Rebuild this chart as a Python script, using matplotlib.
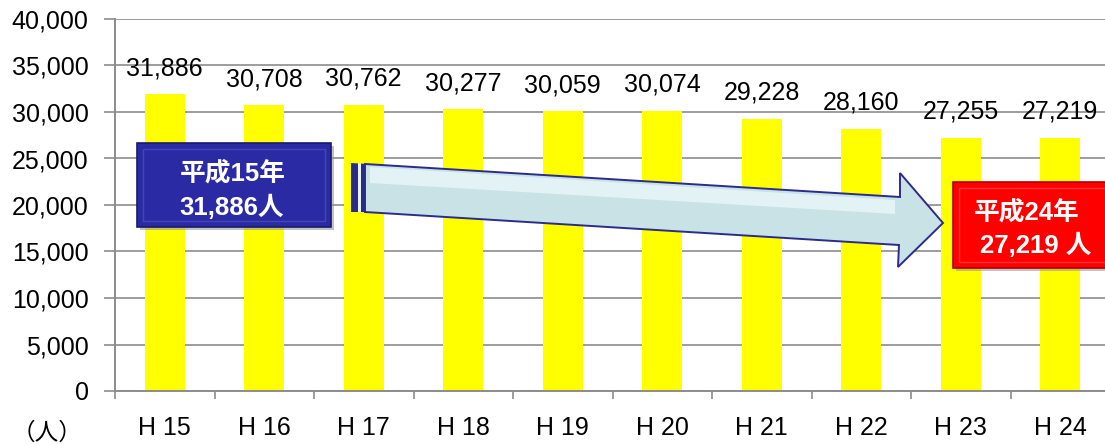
import numpy as np
import matplotlib
matplotlib.use('Agg')
import matplotlib.pyplot as plt
from matplotlib.patches import Polygon, Rectangle

plt.rcParams['font.family'] = ['Liberation Sans', 'DejaVu Sans']
JP = ['Liberation Sans', 'Noto Sans CJK JP']

# Yearly head counts, Heisei 15 .. 24
years = ['H 15', 'H 16', 'H 17', 'H 18', 'H 19', 'H 20', 'H 21', 'H 22', 'H 23', 'H 24']
counts = [31886, 30708, 30762, 30277, 30059, 30074, 29228, 28160, 27255, 27219]
yticks = [0, 5000, 10000, 15000, 20000, 25000, 30000, 35000, 40000]

W, H = 1105, 445
FS = 18
fig = plt.figure(figsize=(W / 100, H / 100), dpi=100)
ax = fig.add_axes([115 / W, (H - 391) / H, (1110 - 115) / W, (391 - 19) / H])

GRID = '#8c8c8c'
x = np.arange(len(years))
ax.bar(x, counts, width=0.4, color='#ffff00', zorder=2)
ax.set_xlim(-0.5, len(years) - 0.5)
ax.set_ylim(0, 40000)
ax.set_yticks(yticks)
ax.set_yticklabels([f'{v:,}' for v in yticks])
ax.yaxis.grid(True, color=GRID, linewidth=1.2, zorder=0)
ax.set_axisbelow(True)

# category ticks sit between bars
ax.set_xticks(np.arange(len(years) + 1) - 0.5, minor=False)
ax.set_xticklabels([])
ax.set_xticks(x, minor=True)
ax.set_xticklabels(years, minor=True)
ax.tick_params(axis='x', which='major', length=6, width=1.2, color=GRID)
ax.tick_params(axis='x', which='minor', length=0, pad=18, labelsize=FS)
ax.tick_params(axis='y', length=8, width=1.2, color=GRID, pad=11, labelsize=FS)

for s in ['top', 'right']:
    ax.spines[s].set_visible(False)
for s in ['left', 'bottom']:
    ax.spines[s].set_color(GRID)
    ax.spines[s].set_linewidth(1.4)

for xi, v in zip(x, counts):
    ax.annotate(f'{v:,}', xy=(xi, v), xytext=(0, 19), textcoords='offset points',
                ha='center', va='center', fontsize=FS, zorder=3)

fig.text(47 / W, 1 - 433 / H, '（人）', family=['Noto Sans CJK JP'], fontsize=17,
         ha='center', va='center')


def px(pts):
    return [(a / W, 1 - b / H) for a, b in pts]


# trend arrow from the first year box to the last one
shaft_head = px([(365, 164), (900, 197), (900, 173), (943, 223),
                 (898, 267), (899, 245), (365, 212)])
fig.patches.append(Polygon(shaft_head, closed=True, transform=fig.transFigure,
                           facecolor='#c9e2e6', edgecolor='#2b2b8c', linewidth=1.4, zorder=4))
fig.patches.append(Polygon(px([(370, 167), (895, 200), (895, 214), (370, 183)]), closed=True,
                           transform=fig.transFigure, facecolor='#e3f2f5',
                           edgecolor='none', zorder=4))
for x0, x1, c in [(351, 358, '#2b2b8c'), (358, 361, '#e8f4f6'), (361, 365, '#2b2b8c')]:
    fig.patches.append(Polygon(px([(x0, 163 + (x0 - 351) * 0.06), (x1, 163 + (x1 - 351) * 0.06),
                                   (x1, 212), (x0, 212)]), closed=True,
                               transform=fig.transFigure, facecolor=c, edgecolor='none', zorder=4))


def box(x0, y0, x1, y1, face, edge, light):
    fig.patches.append(Rectangle(((x0 + 3) / W, 1 - (y1 + 3) / H), (x1 - x0) / W, (y1 - y0) / H,
                                 transform=fig.transFigure, facecolor='#9a9a9a',
                                 edgecolor='none', alpha=0.6, zorder=4))
    fig.patches.append(Rectangle((x0 / W, 1 - y1 / H), (x1 - x0) / W, (y1 - y0) / H,
                                 transform=fig.transFigure, facecolor=face,
                                 edgecolor=edge, linewidth=1.2, zorder=5))
    fig.patches.append(Rectangle(((x0 + 6) / W, 1 - (y1 - 6) / H), (x1 - x0 - 12) / W,
                                 (y1 - y0 - 12) / H, transform=fig.transFigure,
                                 facecolor='none', edgecolor=light, linewidth=1.0,
                                 alpha=0.4, zorder=5))


box(137, 143, 331, 227, '#2a2aa4', '#1a1a70', '#7070d0')
box(953, 182, 1115, 268, '#ff0000', '#b00000', '#ff8080')

BFS = 18.5
fig.text(233 / W, 1 - 173 / H, '平成15年', family=JP, fontsize=BFS, fontweight='bold',
         color='white', ha='center', va='center', zorder=6)
fig.text(232 / W, 1 - 207 / H, '31,886人', family=JP, fontsize=BFS, fontweight='bold',
         color='white', ha='center', va='center', zorder=6)
fig.text(1027 / W, 1 - 212 / H, '平成24年', family=JP, fontsize=BFS, fontweight='bold',
         color='white', ha='center', va='center', zorder=6)
fig.text(1036 / W, 1 - 245 / H, '27,219 人', family=JP, fontsize=BFS, fontweight='bold',
         color='white', ha='center', va='center', zorder=6)

fig.savefig('out.png', dpi=100)
